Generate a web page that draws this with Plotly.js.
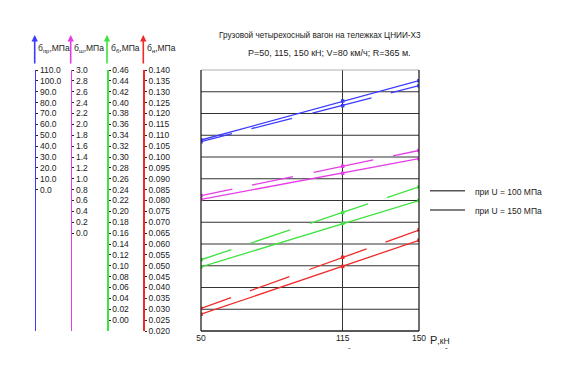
<!DOCTYPE html>
<html>
<head>
<meta charset="utf-8">
<script src="https://cdn.plot.ly/plotly-3.0.1.min.js"></script>
<style>html,body{margin:0;padding:0;background:#fff;}#chart{width:584px;height:383px;}</style>
</head>
<body>
<div id="chart"></div>
<script>
// Load P, kN
var loadP = [50, 115, 150];
var xTickVals = [50, 115, 150];
var xTickText = ['50', '115', '150'];

// Stresses, MPa (U = 100 MPa -> solid, U = 150 MPa -> dashed)
var sigmaPr100 = [45.6, 81.5, 100.2];
var sigmaPr150 = [44.1, 77.2, 95.6];
var sigmaSh100 = [0.62, 1.10, 1.37];
var sigmaSh150 = [0.69, 1.23, 1.52];
var sigmaB100  = [0.098, 0.178, 0.220];
var sigmaB150  = [0.111, 0.198, 0.245];
var sigmaH100  = [0.0277, 0.0497, 0.0617];
var sigmaH150  = [0.0304, 0.0539, 0.0664];

// Tick labels of the four stress scales
var ticksPr = [0,10,20,30,40,50,60,70,80,90,100,110];
var ticksSh = [0,0.2,0.4,0.6,0.8,1.0,1.2,1.4,1.6,1.8,2.0,2.2,2.4,2.6,2.8,3.0];
var ticksB  = [0,0.02,0.04,0.06,0.08,0.10,0.12,0.14,0.16,0.18,0.20,0.22,0.24,0.26,0.28,0.30,0.32,0.34,0.36,0.38,0.40,0.42,0.44,0.46];
var ticksH  = [0.020,0.025,0.030,0.035,0.040,0.045,0.050,0.055,0.060,0.065,0.070,0.075,0.080,0.085,0.090,0.095,0.100,0.105,0.110,0.115,0.120,0.125,0.130,0.135,0.140];
// horizontal grid levels (on the sub-stress scale)
var gridH = [0.03,0.04,0.05,0.06,0.07,0.08,0.09,0.10,0.11,0.12,0.13];

var W = 584, H = 383;
var FONT = 'Liberation Sans, Arial, sans-serif';
var cBlue = '#3b3bff', cMag = '#e53de5', cGreen = '#3fe33f', cRed = '#ee2a2a';
var DASH = '32px,20px,42px,21px,61px,20px,120px';

function px2x(p){ return p / W; }
function px2y(p){ return (H - p) / H; }

var plotDomX = [px2x(201), px2x(419)];
var plotDomY = [px2y(331), px2y(70)];

function tr(y, axis, color, dash){
  return {x: loadP, y: y, yaxis: axis, type: 'scatter', mode: 'lines+markers',
    line: {color: color, width: 1.3, dash: dash},
    marker: {symbol: 'square', size: 3.5, color: color}, showlegend: false, hoverinfo: 'skip'};
}

var data = [
  tr(sigmaPr100, 'y2', cBlue, 'solid'), tr(sigmaPr150, 'y2', cBlue, DASH),
  tr(sigmaSh100, 'y3', cMag, 'solid'), tr(sigmaSh150, 'y3', cMag, DASH),
  tr(sigmaB100, 'y4', cGreen, 'solid'), tr(sigmaB150, 'y4', cGreen, DASH),
  tr(sigmaH100, 'y', cRed, 'solid'), tr(sigmaH150, 'y', cRed, DASH)
];

function stressAxis(pos, color, range, vals, fmt){
  return {overlaying: 'y', anchor: 'free', position: pos, side: 'right',
    range: range, tickvals: vals, tickformat: fmt, showgrid: false, zeroline: false,
    showline: true, linecolor: color, linewidth: 1.6, ticks: 'outside', ticklen: 2,
    tickcolor: '#222', tickwidth: 1, tickfont: {family: FONT, size: 8.5, color: '#222'}, fixedrange: true};
}

var axPos = [px2x(34.7), px2x(70.7), px2x(107), px2x(143.3)];

var layout = {
  width: W, height: H, margin: {l: 0, r: 0, t: 0, b: 0},
  paper_bgcolor: '#fff', plot_bgcolor: 'rgba(0,0,0,0)', showlegend: false,
  font: {family: FONT, size: 9, color: '#222'},
  xaxis: {domain: plotDomX, range: [50, 150], tickvals: xTickVals, ticktext: xTickText,
    showgrid: true, gridcolor: '#333', gridwidth: 1, zeroline: false, ticks: '', showline: false,
    tickfont: {family: FONT, size: 8.5, color: '#222'}, fixedrange: true},
  yaxis: {domain: plotDomY, anchor: 'free', position: axPos[3], side: 'right',
    range: [0.02, 0.14], tickvals: ticksH, tickformat: '.3f',
    showgrid: false, zeroline: false, showline: true, linecolor: cRed, linewidth: 1.6,
    ticks: 'outside', ticklen: 2, tickcolor: '#222', tickwidth: 1,
    tickfont: {family: FONT, size: 8.5, color: '#222'}, fixedrange: true},
  yaxis2: stressAxis(axPos[0], cBlue, [-130, 110], ticksPr, '.1f'),
  yaxis3: stressAxis(axPos[1], cMag, [-1.8, 3.0], ticksSh, '.1f'),
  yaxis4: stressAxis(axPos[2], cGreen, [-0.02, 0.46], ticksB, '.2f'),
  shapes: [
    {type: 'line', xref: 'x domain', yref: 'y domain', x0: 0, x1: 1, y0: 1, y1: 1, line: {color: '#b0b0b0', width: 1.2}},
    {type: 'line', xref: 'x domain', yref: 'y domain', x0: 0, x1: 1, y0: 0, y1: 0, line: {color: '#222', width: 1.3}},
    {type: 'line', xref: 'x domain', yref: 'y domain', x0: 0, x1: 0, y0: 0, y1: 1, line: {color: '#222', width: 1.3}},
    {type: 'line', xref: 'x domain', yref: 'y domain', x0: 1, x1: 1, y0: 0, y1: 1, line: {color: '#222', width: 1.3}},
    {type: 'line', xref: 'paper', yref: 'paper', x0: px2x(430), x1: px2x(465), y0: px2y(190.7), y1: px2y(190.7), line: {color: '#555', width: 1.4}},
    {type: 'line', xref: 'paper', yref: 'paper', x0: px2x(430), x1: px2x(465), y0: px2y(210), y1: px2y(210), line: {color: '#555', width: 1.4}}
  ],
  annotations: []
};
gridH.forEach(function(v){
  layout.shapes.push({type: 'line', xref: 'x domain', yref: 'y', x0: 0, x1: 1, y0: v, y1: v,
    layer: 'below', line: {color: '#333', width: 1}});
});

var colors = [cBlue, cMag, cGreen, cRed];
var titles = ['б<sub>пр</sub>,МПа', 'б<sub>ш</sub>,МПа', 'б<sub>б</sub>,МПа', 'б<sub>н</sub>,МПа'];
for (var i = 0; i < 4; i++){
  layout.annotations.push({xref: 'paper', yref: 'paper', x: axPos[i], y: px2y(35), ax: 0, ay: 35,
    text: ' ', showarrow: true, arrowhead: 2, arrowsize: 0.8, arrowwidth: 1.6, arrowcolor: colors[i]});
  layout.annotations.push({xref: 'paper', yref: 'paper', x: axPos[i] + px2x(1.5), y: px2y(49),
    xanchor: 'left', yanchor: 'middle', showarrow: false, text: titles[i],
    font: {family: FONT, size: 8.5, color: '#222'}});
}
function note(text, xp, yp, size, anchor){
  layout.annotations.push({xref: 'paper', yref: 'paper', x: px2x(xp), y: px2y(yp), xanchor: anchor || 'center',
    yanchor: 'middle', showarrow: false, text: text, font: {family: FONT, size: size, color: '#222'}});
}
note('Грузовой четырехосный вагон на тележках ЦНИИ-Х3', 320, 35, 8.2);
note('P=50, 115, 150 кН; V=80 км/ч; R=365 м.', 329, 53, 9);
note('при U = 100 МПа', 473, 191.5, 8.5, 'left');
note('при U = 150 МПа', 473, 210.5, 8.5, 'left');
note('P<span style="font-size:8.5px">,кН</span>', 428, 340, 11, 'left');
note('-', 349, 347, 8);
note('ˇ', 446, 350, 8);

Plotly.newPlot('chart', data, layout, {staticPlot: true, displayModeBar: false});
</script>
</body>
</html>
